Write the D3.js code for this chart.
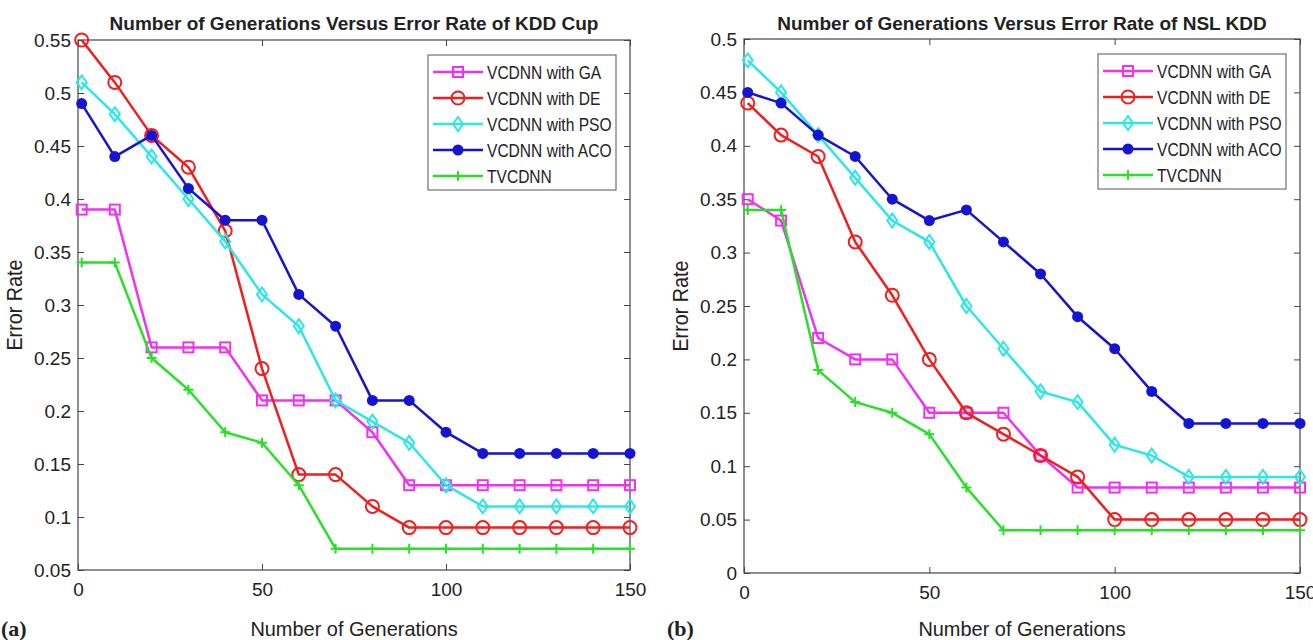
<!DOCTYPE html>
<html>
<head>
<meta charset="utf-8">
<script src="https://cdn.jsdelivr.net/npm/d3@7"></script>
<style>
  body { margin: 0; background: #fff; }
  svg { display: block; }
  text { font-family: "Liberation Sans", Arial, sans-serif; fill: #222; }
</style>
</head>
<body>
<svg id="chart"></svg>
<script>
// generations (x values)
const generations = [1, 10, 20, 30, 40, 50, 60, 70, 80, 90, 100, 110, 120, 130, 140, 150];

const seriesNames = ["VCDNN with GA", "VCDNN with DE", "VCDNN with PSO", "VCDNN with ACO", "TVCDNN"];

// (a) KDD Cup
const kddGA  = [0.39, 0.39, 0.26, 0.26, 0.26, 0.21, 0.21, 0.21, 0.18, 0.13, 0.13, 0.13, 0.13, 0.13, 0.13, 0.13];
const kddDE  = [0.55, 0.51, 0.46, 0.43, 0.37, 0.24, 0.14, 0.14, 0.11, 0.09, 0.09, 0.09, 0.09, 0.09, 0.09, 0.09];
const kddPSO = [0.51, 0.48, 0.44, 0.40, 0.36, 0.31, 0.28, 0.21, 0.19, 0.17, 0.13, 0.11, 0.11, 0.11, 0.11, 0.11];
const kddACO = [0.49, 0.44, 0.46, 0.41, 0.38, 0.38, 0.31, 0.28, 0.21, 0.21, 0.18, 0.16, 0.16, 0.16, 0.16, 0.16];
const kddTV  = [0.34, 0.34, 0.25, 0.22, 0.18, 0.17, 0.13, 0.07, 0.07, 0.07, 0.07, 0.07, 0.07, 0.07, 0.07, 0.07];

// (b) NSL KDD
const nslGA  = [0.35, 0.33, 0.22, 0.20, 0.20, 0.15, 0.15, 0.15, 0.11, 0.08, 0.08, 0.08, 0.08, 0.08, 0.08, 0.08];
const nslDE  = [0.44, 0.41, 0.39, 0.31, 0.26, 0.20, 0.15, 0.13, 0.11, 0.09, 0.05, 0.05, 0.05, 0.05, 0.05, 0.05];
const nslPSO = [0.48, 0.45, 0.41, 0.37, 0.33, 0.31, 0.25, 0.21, 0.17, 0.16, 0.12, 0.11, 0.09, 0.09, 0.09, 0.09];
const nslACO = [0.45, 0.44, 0.41, 0.39, 0.35, 0.33, 0.34, 0.31, 0.28, 0.24, 0.21, 0.17, 0.14, 0.14, 0.14, 0.14];
const nslTV  = [0.34, 0.34, 0.19, 0.16, 0.15, 0.13, 0.08, 0.04, 0.04, 0.04, 0.04, 0.04, 0.04, 0.04, 0.04, 0.04];

const xTicks = [0, 50, 100, 150];
const kddYTicks = [0.05, 0.1, 0.15, 0.2, 0.25, 0.3, 0.35, 0.4, 0.45, 0.5, 0.55];
const nslYTicks = [0, 0.05, 0.1, 0.15, 0.2, 0.25, 0.3, 0.35, 0.4, 0.45, 0.5];

const colors = ["#f032f0", "#f01e1e", "#2ee6e6", "#1414d2", "#28e028"];
const markers = ["square", "circle", "diamond", "dot", "plus"];

var width = 1313, height = 640;
var svg = d3.select("#chart").attr("width", width).attr("height", height);

// squeezed text, like the narrow font in the figure
function label(g, x, y, str, opts) {
  opts = opts || {};
  var t = g.append("text")
    .attr("transform", "translate(" + x + "," + y + ")" + (opts.rotate ? " rotate(" + opts.rotate + ")" : "") + " scale(" + (opts.sx || 1) + ",1)")
    .attr("text-anchor", opts.anchor || "start")
    .style("font-size", (opts.size || 18) + "px")
    .text(str);
  if (opts.bold) t.style("font-weight", "bold");
  if (opts.family) t.style("font-family", opts.family);
  return t;
}

function marker(g, kind, cx, cy, color) {
  if (kind === "square") {
    g.append("rect").attr("x", cx - 5).attr("y", cy - 5).attr("width", 10).attr("height", 10)
      .attr("fill", "none").attr("stroke", color).attr("stroke-width", 2);
  } else if (kind === "circle") {
    g.append("circle").attr("cx", cx).attr("cy", cy).attr("r", 6.5)
      .attr("fill", "none").attr("stroke", color).attr("stroke-width", 2);
  } else if (kind === "diamond") {
    g.append("path").attr("d", "M" + cx + "," + (cy - 7) + "L" + (cx + 5) + "," + cy + "L" + cx + "," + (cy + 7) + "L" + (cx - 5) + "," + cy + "Z")
      .attr("fill", "none").attr("stroke", color).attr("stroke-width", 2);
  } else if (kind === "dot") {
    g.append("circle").attr("cx", cx).attr("cy", cy).attr("r", 5.5).attr("fill", color);
  } else {
    g.append("path").attr("d", "M" + (cx - 5) + "," + cy + "H" + (cx + 5) + "M" + cx + "," + (cy - 5) + "V" + (cy + 5))
      .attr("stroke", color).attr("stroke-width", 2);
  }
}

function panel(cfg) {
  var left = cfg.left, top = cfg.top, right = cfg.right, bottom = cfg.bottom;
  var x = d3.scaleLinear().domain([0, 150]).range([left, right]);
  var y = d3.scaleLinear().domain(cfg.yDomain).range([bottom, top]);
  var g = svg.append("g");

  // title
  label(g, (left + right) / 2, 30, cfg.title, { anchor: "middle", size: 19, bold: true });

  // axes with inward ticks (all four sides)
  var fmt = function (d) { return String(+d.toFixed(2)); };
  var axisColor = "#444";
  g.append("g").attr("transform", "translate(0," + bottom + ")")
    .call(d3.axisBottom(x).tickValues(xTicks).tickSize(-6).tickPadding(13).tickFormat(fmt))
    .call(function (a) {
      a.select(".domain").remove();
      a.selectAll("line").attr("stroke", axisColor);
      a.selectAll("text").style("font-size", "19px").attr("fill", "#222");
    });
  g.append("g").attr("transform", "translate(0," + top + ")")
    .call(d3.axisTop(x).tickValues(xTicks).tickSize(-6).tickFormat(""))
    .call(function (a) { a.select(".domain").remove(); a.selectAll("line").attr("stroke", axisColor); });
  g.append("g").attr("transform", "translate(" + left + ",0)")
    .call(d3.axisLeft(y).tickValues(cfg.yTicks).tickSize(-6).tickPadding(7).tickFormat(fmt))
    .call(function (a) {
      a.select(".domain").remove();
      a.selectAll("line").attr("stroke", axisColor);
      a.selectAll("text").style("font-size", "19px").attr("fill", "#222");
    });
  g.append("g").attr("transform", "translate(" + right + ",0)")
    .call(d3.axisRight(y).tickValues(cfg.yTicks).tickSize(-6).tickFormat(""))
    .call(function (a) { a.select(".domain").remove(); a.selectAll("line").attr("stroke", axisColor); });
  g.append("rect").attr("x", left).attr("y", top).attr("width", right - left).attr("height", bottom - top)
    .attr("fill", "none").attr("stroke", axisColor).attr("stroke-width", 1.2);

  // axis labels
  label(g, (left + right) / 2, 636, "Number of Generations", { anchor: "middle", size: 21, sx: 0.95 });
  label(g, left - 56, (top + bottom) / 2, "Error Rate", { anchor: "middle", size: 22, sx: 0.9, rotate: -90 });
  label(g, left - 77, 636, cfg.tag, { size: 22, bold: true, family: "Liberation Serif, Times New Roman, serif" });

  // series
  var line = d3.line().x(function (d, i) { return x(generations[i]); }).y(function (d) { return y(d); });
  cfg.series.forEach(function (vals, s) {
    g.append("path").datum(vals).attr("d", line).attr("fill", "none")
      .attr("stroke", colors[s]).attr("stroke-width", 2.5).attr("stroke-linejoin", "round");
    vals.forEach(function (v, i) { marker(g, markers[s], x(generations[i]), y(v), colors[s]); });
  });

  // legend
  var lw = 188, lh = 135;
  var lx = right - 14 - lw, ly = top + 15;
  var lg = g.append("g");
  lg.append("rect").attr("x", lx).attr("y", ly).attr("width", lw).attr("height", lh)
    .attr("fill", "#fff").attr("stroke", "#555").attr("stroke-width", 1);
  seriesNames.forEach(function (name, s) {
    var cy = ly + 17 + s * 26;
    lg.append("line").attr("x1", lx + 5).attr("x2", lx + 55).attr("y1", cy).attr("y2", cy)
      .attr("stroke", colors[s]).attr("stroke-width", 2.5);
    marker(lg, markers[s], lx + 30, cy, colors[s]);
    label(lg, lx + 59, cy + 7, name, { size: 19, sx: 0.82 });
  });
}

panel({
  left: 78, right: 630, top: 40, bottom: 570,
  yDomain: [0.05, 0.55], yTicks: kddYTicks,
  title: "Number of Generations Versus Error Rate of KDD Cup", tag: "(a)",
  series: [kddGA, kddDE, kddPSO, kddACO, kddTV]
});

panel({
  left: 744, right: 1300, top: 39, bottom: 573,
  yDomain: [0, 0.5], yTicks: nslYTicks,
  title: "Number of Generations Versus Error Rate of NSL KDD", tag: "(b)",
  series: [nslGA, nslDE, nslPSO, nslACO, nslTV]
});
</script>
</body>
</html>
